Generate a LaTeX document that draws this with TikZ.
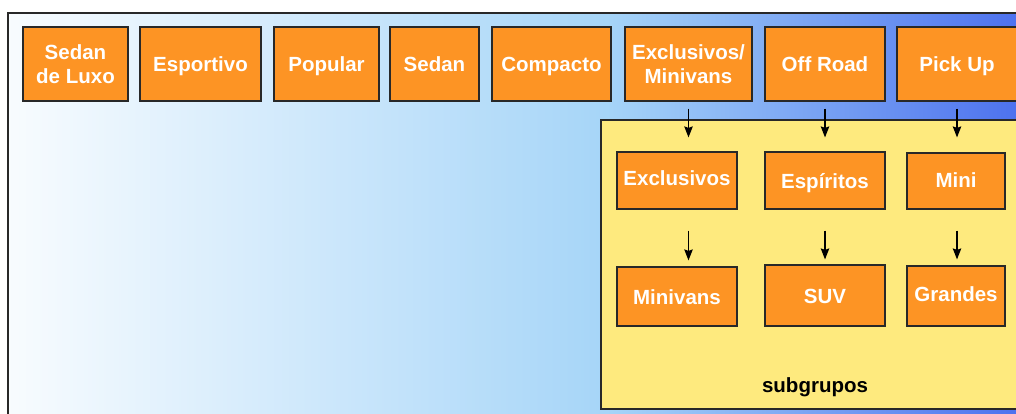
\documentclass[tikz,border=0pt]{standalone}
\usepackage{fontspec}
\setmainfont{Liberation Sans}
\usetikzlibrary{arrows.meta}

\definecolor{laranja}{RGB}{253,148,36}
\definecolor{amarelo}{RGB}{254,234,126}
\definecolor{azulclaro}{RGB}{166,213,248}
\definecolor{azul}{RGB}{72,108,238}
\definecolor{borda}{RGB}{40,40,40}

\pgfdeclarehorizontalshading{fundo}{100bp}{color(0bp)=(azulclaro!8);
  color(25bp)=(azulclaro!8); color(54bp)=(azulclaro); color(75bp)=(azul);
  color(100bp)=(azul)}

\begin{document}
\begin{tikzpicture}[x=1pt, y=-1pt,
        grupo/.style={draw=borda, line width=1.2pt, fill=laranja, text=white,
            font=\bfseries\fontsize{20.5}{24}\selectfont, align=center,
            inner sep=2pt, minimum height=74pt},
        linha/.style={text height=15pt, text depth=0pt},
        caixa/.style={draw=borda, line width=1.8pt, fill=amarelo},
        seta/.style={-{Stealth[length=11pt,width=8.5pt,inset=1.5pt]},
            line width=1.2pt, black}]
\useasboundingbox (0,0) rectangle (1016,414);
\clip (0,0) rectangle (1016,414);

% fundo e caixa dos subgrupos
\draw[draw=borda, line width=1.5pt, shading=fundo] (8,13) rectangle (1040,440);
\draw[caixa] (601,120) rectangle (1040,409);
\node[font=\bfseries\fontsize{20.5}{24}\selectfont] (subgrupos) at (815,387) {subgrupos};

% grupos
\node[grupo, minimum width=105pt] (sedanluxo) at (75.5,64) {Sedan\\de Luxo};
\node[grupo, linha, minimum width=121pt] (esportivo) at (200.5,64) {Esportivo};
\node[grupo, linha, minimum width=105pt] (popular) at (326.5,64) {Popular};
\node[grupo, linha, minimum width=89pt] (sedan) at (434.5,64) {Sedan};
\node[grupo, linha, minimum width=119pt] (compacto) at (551.5,64) {Compacto};
\node[grupo, minimum width=127pt] (excmin) at (688.5,64) {Exclusivos/\\Minivans};
\node[grupo, linha, minimum width=120pt] (offroad) at (825,64) {Off Road};
\node[grupo, linha, minimum width=120pt] (pickup) at (957,64) {Pick Up};

% subgrupos
\node[grupo, linha, text height=10pt, minimum width=120pt, minimum height=57pt] (exclusivos) at (677,180.5) {Exclusivos};
\node[grupo, linha, minimum width=120pt, minimum height=57pt] (espiritos) at (825,180.5) {Espíritos};
\node[grupo, linha, text height=13pt, minimum width=98pt, minimum height=56pt] (mini) at (956,181) {Mini};
\node[grupo, linha, minimum width=120pt, minimum height=59pt] (minivans) at (677,296.5) {Minivans};
\node[grupo, linha, minimum width=120pt, minimum height=61pt] (suv) at (825,295.5) {SUV};
\node[grupo, linha, text height=10pt, minimum width=98pt, minimum height=60pt] (grandes) at (956,296) {Grandes};

\draw[seta, shorten <=7pt, shorten >=14pt] (excmin.south) -- (excmin.south |- exclusivos.north);
\draw[seta, shorten <=7pt, shorten >=14pt] (offroad.south) -- (offroad.south |- espiritos.north);
\draw[seta, shorten <=7pt, shorten >=15pt] (pickup.south) -- (pickup.south |- mini.north);

\draw[seta, shorten <=21pt, shorten >=6pt] (excmin |- exclusivos.south) -- (excmin |- minivans.north);
\draw[seta, shorten <=21pt, shorten >=5pt] (offroad |- espiritos.south) -- (offroad |- suv.north);
\draw[seta, shorten <=21pt, shorten >=6pt] (pickup |- mini.south) -- (pickup |- grandes.north);
\end{tikzpicture}
\end{document}
